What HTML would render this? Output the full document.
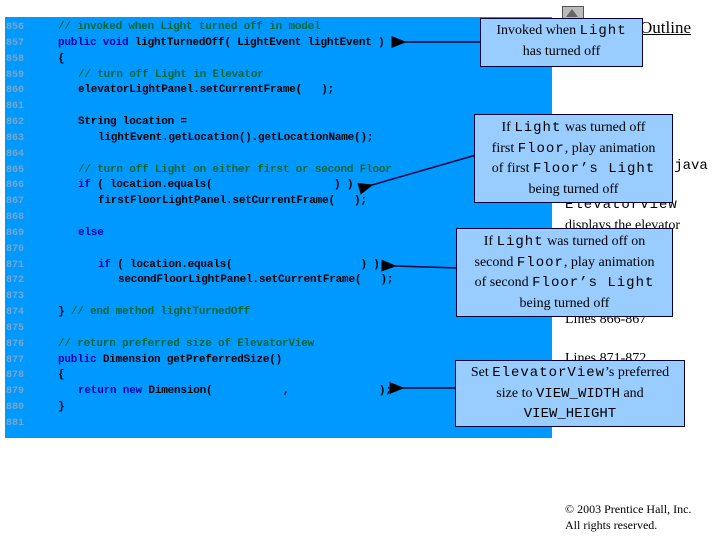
<!DOCTYPE html>
<html><head><meta charset="utf-8"><style>
body{margin:0;width:720px;height:540px;background:#fff;position:relative;overflow:hidden;font-family:"Liberation Serif",serif}
.panel{position:absolute;left:5px;top:17px;width:547px;height:421px;background:#0099ff}
.ln{position:absolute;left:6px;font:bold 10px "Liberation Mono",monospace;color:#7aa6c8}
.c{position:absolute;font:bold 11px "Liberation Mono",monospace;color:#000;white-space:pre;letter-spacing:-0.2px}
.g{color:#006633}.k{color:#0000aa}
.r{position:absolute;font-size:14px;color:#000;white-space:nowrap}
.m{font-family:"Liberation Mono",monospace}
.box{position:absolute;background:#99ccff;border:1px solid #000033;font-size:14px;text-align:center;line-height:19.5px;color:#000}
.box .m{font-size:14px;letter-spacing:1px}
</style></head><body>
<div class="panel"></div>
<div style="position:absolute;left:562px;top:6px;width:20px;height:16px;background:#bbb;border:1px solid #555"></div>
<div style="position:absolute;left:566px;top:9px;width:0;height:0;border-left:6px solid transparent;border-right:6px solid transparent;border-bottom:8px solid #666"></div>
<div class="r" style="left:640px;top:18px;font-size:17px;text-decoration:underline">Outline</div>
<div class="r m" style="left:565px;top:158px;font-size:14px">ElevatorView.java</div>
<div class="r m" style="left:565px;top:197px;font-size:14px;letter-spacing:1px">ElevatorView</div>
<div class="r" style="left:565px;top:218px">displays the elevator</div>
<div class="r" style="left:565px;top:237px">model.</div>
<div class="r" style="left:565px;top:312px">Lines 866-867</div>
<div class="r" style="left:565px;top:351px">Lines 871-872</div>
<div class="r" style="left:565px;top:502px;font-size:12px">© 2003 Prentice Hall, Inc.</div>
<div class="r" style="left:565px;top:518px;font-size:12px">All rights reserved.</div>

<div class="ln" style="top:22px">856</div><div class="ln" style="top:38px">857</div><div class="ln" style="top:54px">858</div><div class="ln" style="top:70px">859</div><div class="ln" style="top:85px">860</div><div class="ln" style="top:101px">861</div><div class="ln" style="top:117px">862</div><div class="ln" style="top:133px">863</div><div class="ln" style="top:149px">864</div><div class="ln" style="top:165px">865</div><div class="ln" style="top:180px">866</div><div class="ln" style="top:196px">867</div><div class="ln" style="top:212px">868</div><div class="ln" style="top:228px">869</div><div class="ln" style="top:244px">870</div><div class="ln" style="top:260px">871</div><div class="ln" style="top:275px">872</div><div class="ln" style="top:291px">873</div><div class="ln" style="top:307px">874</div><div class="ln" style="top:323px">875</div><div class="ln" style="top:339px">876</div><div class="ln" style="top:355px">877</div><div class="ln" style="top:370px">878</div><div class="ln" style="top:386px">879</div><div class="ln" style="top:402px">880</div><div class="ln" style="top:418px">881</div>

<div class="c g" style="left:58px;top:21px">// invoked when Light turned off in model</div>
<div class="c" style="left:58px;top:37px"><span class="k">public void</span> lightTurnedOff( LightEvent lightEvent )</div>
<div class="c" style="left:58px;top:53px">{</div>
<div class="c g" style="left:78px;top:69px">// turn off Light in Elevator</div>
<div class="c" style="left:78px;top:84px">elevatorLightPanel.setCurrentFrame(   );</div>
<div class="c" style="left:78px;top:116px">String location =</div>
<div class="c" style="left:98px;top:132px">lightEvent.getLocation().getLocationName();</div>
<div class="c g" style="left:78px;top:164px">// turn off Light on either first or second Floor</div>
<div class="c" style="left:78px;top:179px"><span class="k">if</span> ( location.equals(                   ) )</div>
<div class="c" style="left:98px;top:195px">firstFloorLightPanel.setCurrentFrame(   );</div>
<div class="c k" style="left:78px;top:227px">else</div>
<div class="c" style="left:98px;top:259px"><span class="k">if</span> ( location.equals(                    ) )</div>
<div class="c" style="left:118px;top:274px">secondFloorLightPanel.setCurrentFrame(   );</div>
<div class="c" style="left:58px;top:306px">} <span class="g">// end method lightTurnedOff</span></div>
<div class="c g" style="left:58px;top:338px">// return preferred size of ElevatorView</div>
<div class="c" style="left:58px;top:354px"><span class="k">public</span> Dimension getPreferredSize()</div>
<div class="c" style="left:58px;top:369px">{</div>
<div class="c" style="left:78px;top:385px"><span class="k">return new</span> Dimension(           ,              );</div>
<div class="c" style="left:58px;top:401px">}</div>

<svg width="720" height="540" style="position:absolute;left:0;top:0">
<defs><marker id="a" markerWidth="10" markerHeight="8" refX="1" refY="4" orient="auto-start-reverse"><path d="M0,4 L10,0 L10,8 Z" fill="#000"/></marker></defs>
<g stroke="#000033" stroke-width="1.5">
<line x1="480" y1="42" x2="405" y2="42" marker-end="url(#a)"/>
<line x1="476" y1="155" x2="372" y2="185" marker-end="url(#a)"/>
<line x1="458" y1="268" x2="395" y2="266" marker-end="url(#a)"/>
<line x1="457" y1="388" x2="403" y2="388" marker-end="url(#a)"/>
</g></svg>

<div class="box" style="left:480px;top:18px;width:161px;height:45px;padding-top:2px">Invoked when <span class="m">Light</span><br>has turned off</div>
<div class="box" style="left:474px;top:114px;width:197px;height:84px;padding-top:3px">If <span class="m">Light</span> was turned off<br>first <span class="m">Floor</span>, play animation<br>of first <span class="m">Floor’s Light</span><br>being turned off</div>
<div class="box" style="left:456px;top:228px;width:215px;height:84px;padding-top:3px">If <span class="m">Light</span> was turned off on<br>second <span class="m">Floor</span>, play animation<br>of second <span class="m">Floor’s Light</span><br>being turned off</div>
<div class="box" style="left:455px;top:360px;width:228px;height:63px;padding-top:2px">Set <span class="m">ElevatorView</span>’s preferred<br>size to <span class="m" style="letter-spacing:0">VIEW_WIDTH</span> and<br><span class="m" style="letter-spacing:0">VIEW_HEIGHT</span></div>
</body></html>
